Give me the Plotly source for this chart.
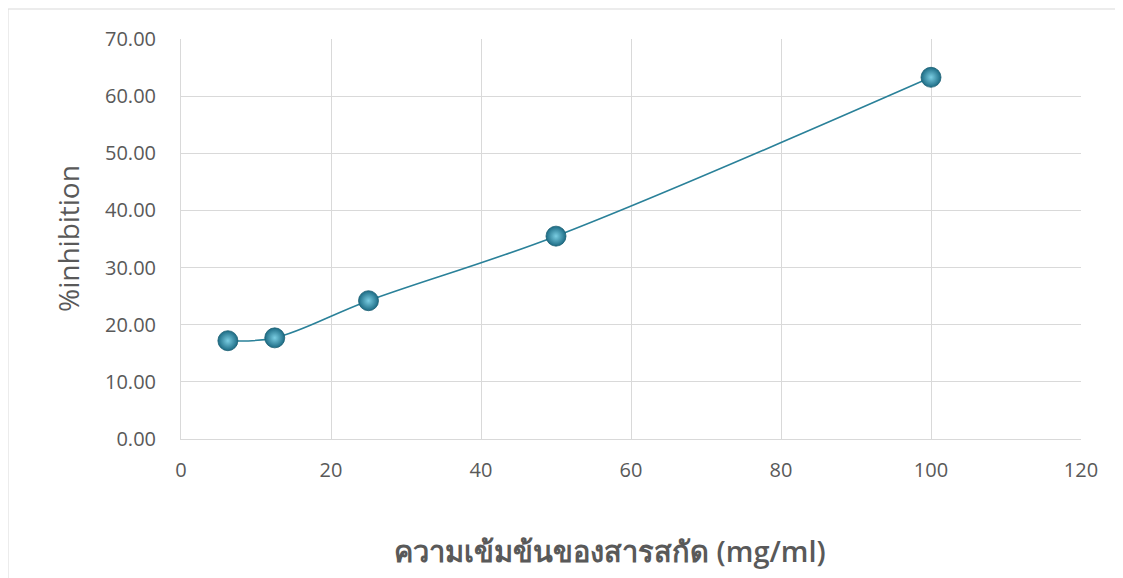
import plotly.graph_objects as go

concentration = [6.25, 12.5, 25, 50, 100]
inhibition = [17.2, 17.7, 24.2, 35.5, 63.3]
x_ticks = [0, 20, 40, 60, 80, 100, 120]
y_ticks = [0, 10, 20, 30, 40, 50, 60, 70]
y_tick_labels = [f"{v:.2f}" for v in y_ticks]
x_title = "ความเข้มข้นของสารสกัด (mg/ml)"
y_title = "%inhibition"

W, H = 1115, 570
L, R, T, B = 173, 42, 31, 139
pw, ph = W - L - R, H - T - B

fig = go.Figure()
fig.add_trace(go.Scatter(
    x=concentration, y=inhibition,
    mode="lines+markers",
    line=dict(shape="spline", smoothing=1.0, color="#2A8199", width=1.6),
    marker=dict(size=20, color="#1C6B84",
                gradient=dict(type="radial", color="#7ACDE2"),
                line=dict(width=0.8, color="#1B5F74")),
    showlegend=False,
))

fig.update_layout(
    width=W, height=H,
    margin=dict(l=L, r=R, t=T, b=B),
    paper_bgcolor="white", plot_bgcolor="white",
    font=dict(family="Open Sans, Noto Sans, sans-serif", color="#595959"),
    shapes=[dict(type="rect", xref="paper", yref="paper",
                 x0=-L / pw, y0=-(B + 20) / ph, x1=(pw + R + 20) / pw, y1=1 + (T - 1) / ph,
                 line=dict(color="#D9D9D9", width=1), layer="below")],
    annotations=[
        dict(text=x_title, xref="paper", yref="paper",
             x=(610 - 8 - L) / pw, y=-(550 - 8 - (T + ph)) / ph,
             xanchor="center", yanchor="middle", showarrow=False,
             font=dict(size=29, color="#595959", weight=600)),
        dict(text=y_title, xref="paper", yref="paper",
             x=(68 - 8 - L) / pw, y=0.5, textangle=-90,
             xanchor="center", yanchor="middle", showarrow=False,
             font=dict(size=28, color="#595959")),
    ],
)
fig.update_xaxes(
    range=[0, 120], tickvals=x_ticks, ticktext=[str(v) for v in x_ticks],
    showgrid=True, gridcolor="#D9D9D9", gridwidth=1,
    showline=True, linecolor="#D9D9D9",
    zeroline=False, ticks="", ticklabelstandoff=13,
    tickfont=dict(size=20, color="#595959"),
)
fig.update_yaxes(
    range=[0, 70], tickvals=y_ticks, ticktext=y_tick_labels,
    showgrid=True, gridcolor="#D9D9D9", gridwidth=1,
    showline=True, linecolor="#D9D9D9",
    zeroline=False, ticks="", ticklabelstandoff=20,
    tickfont=dict(size=20, color="#595959"),
)

fig.write_html("out.html")
